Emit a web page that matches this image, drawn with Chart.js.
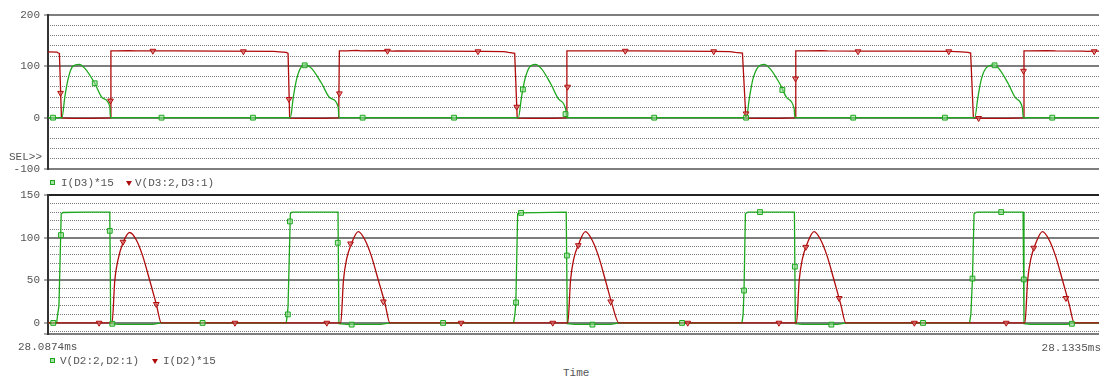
<!DOCTYPE html>
<html>
<head>
<meta charset="utf-8">
<script src="https://cdn.jsdelivr.net/npm/chart.js@4/dist/chart.umd.min.js"></script>
<style>
  body { margin: 0; background: #fff; }
  #wrap { position: relative; width: 1104px; height: 377px; overflow: hidden;
          font-family: 'Liberation Mono', monospace; font-size: 11px; color: #555; }
  canvas { position: absolute; left: 0; }
  .txt { position: absolute; white-space: pre; line-height: 12px; }
  .sq { position: absolute; width: 3px; height: 3px; border: 1px solid #1ea81e; background: #a8e0a8; }
  .tri { position: absolute; width: 0; height: 0; border-left: 3px solid transparent;
         border-right: 3px solid transparent; border-top: 5px solid #b00c0c; }
</style>
</head>
<body>
<div id="wrap">
  <canvas id="topChart" width="1104" height="190" style="top:0"></canvas>
  <canvas id="botChart" width="1104" height="167" style="top:181px"></canvas>

  <div class="txt" style="left:9px;top:151px">SEL&gt;&gt;</div>

  <div class="sq" style="left:50px;top:180px"></div>
  <div class="txt" style="left:61px;top:177px">I(D3)*15</div>
  <div class="tri" style="left:126px;top:181px"></div>
  <div class="txt" style="left:135px;top:177px">V(D3:2,D3:1)</div>

  <div class="txt" style="left:18px;top:341px">28.0874ms</div>
  <div class="txt" style="right:3px;top:342px">28.1335ms</div>

  <div class="sq" style="left:50px;top:358px"></div>
  <div class="txt" style="left:60px;top:355px">V(D2:2,D2:1)</div>
  <div class="tri" style="left:152px;top:359px"></div>
  <div class="txt" style="left:163px;top:355px">I(D2)*15</div>

  <div class="txt" style="left:563px;top:367px">Time</div>
</div>

<script>
// time axis in microseconds (28.0874ms .. 28.1335ms)
const tMin = 28087.4;
const tMax = 28133.5;

// y axis ranges and labelled ticks
const topRange = [-100, 200];
const topMajorTicks = [-100, 0, 100, 200];
const botRange = [-13, 150];
const botMajorTicks = [0, 50, 100, 150];

// top panel: I(D3)*15 (green)
const d3CurrT = [28087.40, 28088.01, 28088.14, 28088.29, 28088.49, 28088.77, 28089.02, 28089.45, 28089.80, 28090.11, 28090.14,
  28098.03, 28098.16, 28098.31, 28098.51, 28098.70, 28098.96, 28099.40, 28099.78, 28100.13, 28100.16,
  28108.03, 28108.17, 28108.32, 28108.53, 28108.78, 28109.05, 28109.45, 28109.80, 28110.11, 28110.15,
  28118.03, 28118.17, 28118.32, 28118.55, 28118.82, 28119.08, 28119.50, 28119.82, 28120.13, 28120.16,
  28128.05, 28128.19, 28128.34, 28128.57, 28128.90, 28129.12, 28129.52, 28129.85, 28130.14, 28130.18,
  28133.50];
const d3CurrY = [0, 0, 41, 77, 100, 104, 96, 67, 38, 22, 0,
  0, 40, 76, 99, 103, 96, 67, 38, 21, 0,
  0, 40, 75, 99, 104, 95, 66, 36, 16, 0,
  0, 40, 75, 99, 104, 95, 66, 38, 17, 0,
  0, 40, 75, 98, 103, 95, 66, 38, 19, 0,
  0];

// top panel: V(D3:2,D3:1) (red)
const d3VoltT = [28087.40, 28087.80, 28087.85, 28087.90, 28087.99, 28088.05, 28088.40, 28089.20, 28089.80, 28090.10, 28090.13, 28090.16,
  28090.40, 28090.90, 28091.30, 28093.00, 28095.00, 28097.30, 28097.55, 28097.85, 28097.93, 28098.00,
  28098.05, 28098.50, 28099.50, 28100.10, 28100.15, 28100.18,
  28100.50, 28100.95, 28101.10, 28102.30, 28102.50, 28102.70, 28104.50, 28106.50, 28107.40, 28107.60, 28107.87, 28107.98,
  28108.05, 28108.50, 28109.50, 28110.10, 28110.13, 28110.16,
  28110.60, 28111.20, 28113.00, 28115.00, 28116.60, 28117.30, 28117.55, 28117.86, 28118.01,
  28118.05, 28118.50, 28119.50, 28120.10, 28120.17, 28120.20,
  28120.60, 28121.30, 28121.60, 28123.00, 28125.00, 28127.00, 28127.45, 28127.75, 28127.87, 28127.99,
  28128.05, 28128.50, 28129.50, 28130.12, 28130.18, 28130.21,
  28130.50, 28131.20, 28131.60, 28132.80, 28133.00, 28133.20, 28133.50];
const d3VoltY = [128, 127.5, 126, 125, 0, -0.5, -1.2, -1.3, -0.8, -0.3, 0, 130,
  130, 130.5, 130, 130, 129.5, 129, 128, 127, 125, 0,
  -0.8, -1.3, -1.2, -0.3, 0, 130,
  130, 131, 130, 130.5, 129.5, 130, 129.5, 129, 128.5, 127, 125.5, 0,
  -1, -1.3, -1.2, -0.3, 0, 130,
  130, 130, 130, 129.5, 129, 128.5, 127, 126, 0,
  -1, -1.3, -1.2, -0.3, 0, 130,
  130, 130.5, 130, 129.8, 129.5, 129, 128, 127, 126, 0,
  -1, -1.3, -1.2, -0.3, 0, 130,
  130, 130.5, 130, 129.8, 129.3, 129.8, 129.5];

// trace symbols, top panel
const d3CurrMarkT = [28087.62, 28089.45, 28092.38, 28096.39, 28098.66, 28101.20, 28105.21, 28108.23, 28110.10,
  28113.99, 28118.02, 28119.61, 28122.72, 28126.74, 28128.92, 28131.45];
const d3CurrMarkY = [0, 67, 0, 0, 102, 0, 0, 55, 7, 0, 0, 54, 0, 0, 102, 0];
const d3VoltMarkT = [28087.95, 28090.14, 28092.00, 28095.97, 28097.97, 28100.18, 28102.29, 28106.26, 28107.96, 28110.19,
  28112.72, 28116.60, 28118.02, 28120.19, 28122.93, 28126.91, 28128.22, 28130.19, 28133.29];
const d3VoltMarkY = [48, 33, 130, 129, 36, 47, 130, 129, 21, 60, 130, 129, 8, 76, 129, 129, -1, 91, 129];

// bottom panel: V(D2:2,D2:1) (green)
const d2VoltT = [28087.40, 28087.78, 28087.83, 28087.88, 28087.98, 28088.06, 28089.00, 28090.11, 28090.15, 28090.50, 28092.00, 28092.36,
  28097.85, 28097.90, 28097.93, 28098.03, 28098.10, 28100.12, 28100.16, 28100.50, 28102.00, 28102.40,
  28107.82, 28107.88, 28107.92, 28108.00, 28108.15, 28110.13, 28110.18, 28110.50, 28112.10, 28112.45,
  28117.84, 28117.89, 28117.93, 28117.99, 28118.10, 28120.14, 28120.18, 28120.50, 28122.05, 28122.41,
  28127.82, 28127.88, 28127.95, 28128.02, 28128.15, 28130.17, 28130.21, 28130.50, 28132.10, 28132.43,
  28133.50];
const d2VoltY = [0, 0, 11, 20, 128, 129.5, 130, 130, -1, -1.8, -1.8, 0,
  0, 10, 20, 128, 130, 130, -1, -1.8, -1.8, 0,
  0, 10, 22, 128, 129, 130, -1, -1.8, -1.8, 0,
  0, 10, 38, 128, 130, 130, -1, -1.8, -1.8, 0,
  0, 10, 52, 128, 130, 130, -1, -1.8, -1.8, 0,
  0];

// bottom panel: I(D2)*15 (red)
const d2CurrT = [28087.40, 28090.21, 28090.33, 28090.47, 28090.69, 28090.98, 28091.28, 28091.56, 28091.86, 28092.15, 28092.37,
  28100.24, 28100.36, 28100.50, 28100.71, 28101.01, 28101.31, 28101.59, 28101.89, 28102.18, 28102.40,
  28110.20, 28110.32, 28110.46, 28110.67, 28110.97, 28111.27, 28111.55, 28111.85, 28112.14, 28112.44,
  28120.23, 28120.35, 28120.49, 28120.70, 28121.00, 28121.30, 28121.58, 28121.88, 28122.17, 28122.40,
  28130.25, 28130.37, 28130.51, 28130.72, 28131.02, 28131.32, 28131.60, 28131.90, 28132.19, 28132.42,
  28133.50];
const d2CurrY = [0, 0, 50, 74, 94, 106, 97, 78, 50, 22, 0,
  0, 50, 75, 93, 107, 97, 78, 50, 23, 0,
  0, 50, 75, 92, 107, 97, 78, 50, 22, 0,
  0, 50, 75, 93, 107, 97, 78, 50, 22, 0,
  0, 50, 75, 93, 107, 97, 78, 50, 22, 0,
  0];

// trace symbols, bottom panel
const d2VoltMarkT = [28087.63, 28087.97, 28090.11, 28090.22, 28094.18, 28097.92, 28098.01, 28100.11, 28100.72, 28104.73,
  28107.93, 28108.15, 28110.16, 28111.28, 28115.21, 28117.93, 28118.63, 28120.16, 28121.76, 28125.78,
  28127.95, 28129.21, 28130.20, 28132.31];
const d2VoltMarkY = [0, 103, 108, -1, 0, 10, 119, 94, -2, 0, 24, 129, 79, -2, 0, 38, 130, 66, -2, 0, 52, 130, 51, -1];
const d2CurrMarkT = [28089.64, 28090.69, 28092.15, 28095.60, 28099.63, 28100.67, 28102.11, 28105.52, 28109.54, 28110.66,
  28112.08, 28115.46, 28119.46, 28120.64, 28122.10, 28125.40, 28129.43, 28130.64, 28132.05];
const d2CurrMarkY = [0, 95, 22, 0, 0, 93, 25, 0, 0, 91, 25, 0, 0, 89, 29, 0, 0, 88, 29];

const GREEN = '#1ea81e';
const RED = '#b00c0c';
const FONT = { family: "'Liberation Mono', monospace", size: 11 };

const toPts = (t, y) => t.map((v, i) => ({ x: v, y: y[i] }));

const squares = (t, y) => ({
  data: toPts(t, y), showLine: false, pointStyle: 'rect', pointRadius: 3.4,
  pointBorderWidth: 1, pointBorderColor: GREEN, pointBackgroundColor: 'rgba(150,220,150,0.6)', order: 0
});
const triangles = (t, y) => ({
  data: toPts(t, y), showLine: false, pointStyle: 'triangle', pointRotation: 180, pointRadius: 3.3,
  pointBorderWidth: 1, pointBorderColor: RED, pointBackgroundColor: 'rgba(220,110,110,0.7)', order: 0
});

function makeScales(range, majors, minorStep, topLine) {
  const [min, max] = range;
  // dotted lines between the labelled ones
  const minors = [];
  for (let v = Math.ceil(min / minorStep) * minorStep; v <= max; v += minorStep) {
    if (v > min && !majors.includes(v)) minors.push(v);
  }
  const edges = [min, ...majors.filter((v) => v !== min)];
  return {
    x: { type: 'linear', min: tMin, max: tMax, display: false },
    y: {
      min: min, max: max,
      afterBuildTicks: (s) => { s.ticks = edges.map((v) => ({ value: v })); },
      afterFit: (s) => { s.width = 48; },
      ticks: { color: '#555', font: FONT, padding: 4,
               callback: (v) => (majors.includes(v) ? String(v) : '') },
      grid: {
        color: (c) => (c.tick.value === max ? topLine : '#7d7d7d'),
        lineWidth: 2, drawTicks: true, tickLength: 4, tickColor: '#555', tickWidth: 1
      },
      border: { display: true, color: '#333', width: 2 }
    },
    y2: {
      position: 'right', min: min, max: max,
      afterBuildTicks: (s) => { s.ticks = minors.map((v) => ({ value: v })); },
      afterFit: (s) => { s.width = 0; },
      ticks: { display: false },
      grid: { drawTicks: false, lineWidth: 1, color: '#7a7a7a' },
      border: { display: false, dash: [1, 1] }
    }
  };
}

const common = {
  responsive: false,
  animation: false,
  events: [],
  plugins: { legend: { display: false }, tooltip: { enabled: false } }
};

new Chart(document.getElementById('topChart'), {
  type: 'line',
  data: {
    datasets: [
      squares(d3CurrMarkT, d3CurrMarkY),
      triangles(d3VoltMarkT, d3VoltMarkY),
      { label: 'I(D3)*15', data: toPts(d3CurrT, d3CurrY), borderColor: GREEN, borderWidth: 1.3,
        pointRadius: 0, cubicInterpolationMode: 'monotone', order: 1 },
      { label: 'V(D3:2,D3:1)', data: toPts(d3VoltT, d3VoltY), borderColor: RED, borderWidth: 1.3,
        pointRadius: 0, tension: 0, order: 2 }
    ]
  },
  options: Object.assign({}, common, {
    layout: { padding: { top: 15, bottom: 21, left: 0, right: 0 } },
    scales: makeScales(topRange, topMajorTicks, 20, '#7d7d7d')
  })
});

new Chart(document.getElementById('botChart'), {
  type: 'line',
  data: {
    datasets: [
      squares(d2VoltMarkT, d2VoltMarkY),
      triangles(d2CurrMarkT, d2CurrMarkY),
      { label: 'V(D2:2,D2:1)', data: toPts(d2VoltT, d2VoltY), borderColor: GREEN, borderWidth: 1.3,
        pointRadius: 0, tension: 0, order: 2 },
      { label: 'I(D2)*15', data: toPts(d2CurrT, d2CurrY), borderColor: RED, borderWidth: 1.3,
        pointRadius: 0, cubicInterpolationMode: 'monotone', order: 1 }
    ]
  },
  options: Object.assign({}, common, {
    layout: { padding: { top: 14, bottom: 14, left: 0, right: 0 } },
    scales: makeScales(botRange, botMajorTicks, 10, '#222')
  })
});
</script>
</body>
</html>
